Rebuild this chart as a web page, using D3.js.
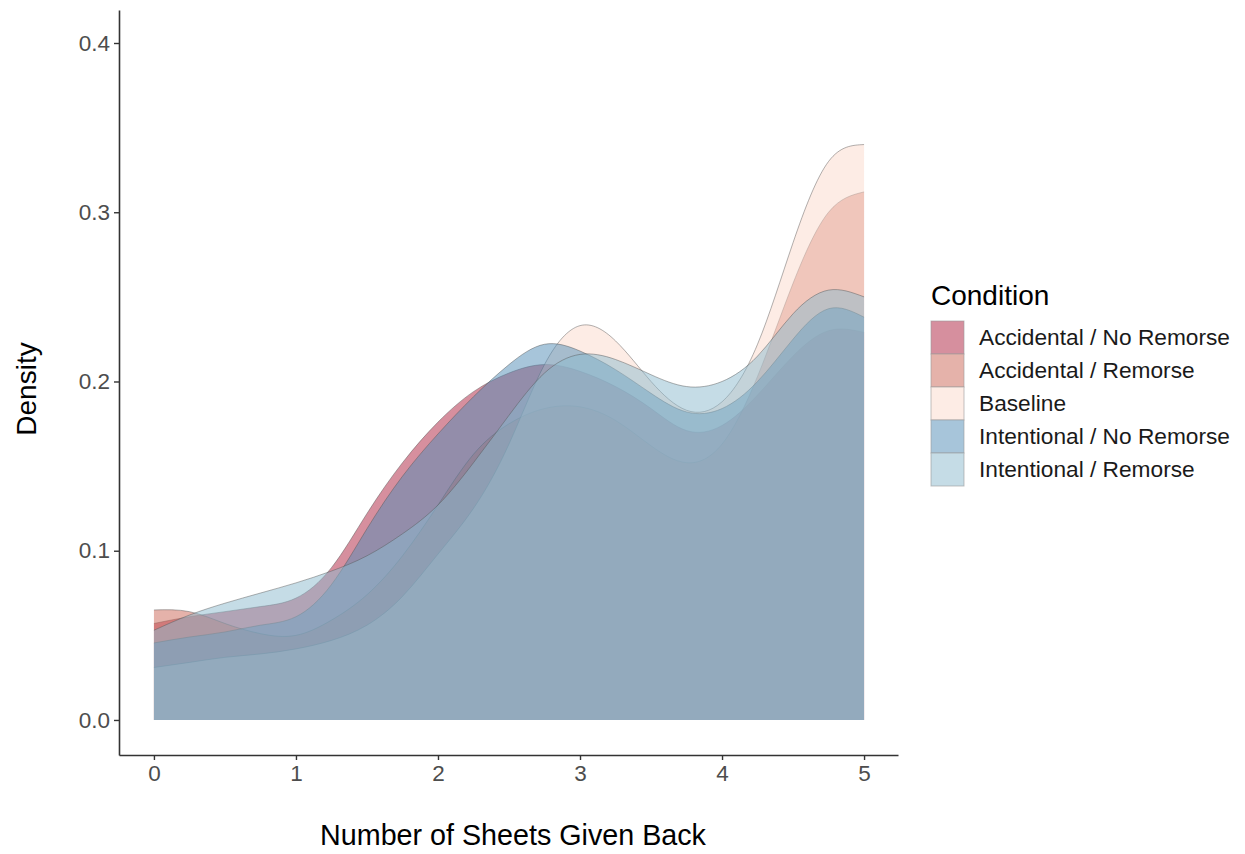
<!DOCTYPE html>
<html>
<head>
<meta charset="utf-8">
<script src="https://cdn.jsdelivr.net/npm/d3@7"></script>
<style>
  body { margin: 0; background: #fff; }
  svg { font-family: "Liberation Sans", Arial, sans-serif; }
</style>
</head>
<body>
<script>
// density curves, all on the same x grid
const xGrid = [0, 0.25, 0.5, 0.75, 1.0, 1.25, 1.5, 1.75, 2.0, 2.25, 2.5, 2.75, 3.0, 3.25, 3.5, 3.75, 4.0, 4.25, 4.5, 4.75, 5.0];

const conditions = ["Accidental / No Remorse", "Accidental / Remorse", "Baseline", "Intentional / No Remorse", "Intentional / Remorse"];

const accNoRemorse = [0.057, 0.061, 0.064, 0.067, 0.072, 0.090, 0.122, 0.152, 0.176, 0.194, 0.205, 0.210, 0.206, 0.197, 0.184, 0.171, 0.174, 0.192, 0.215, 0.230, 0.229];
const accRemorse   = [0.065, 0.064, 0.057, 0.051, 0.050, 0.059, 0.074, 0.097, 0.127, 0.157, 0.175, 0.184, 0.185, 0.177, 0.162, 0.152, 0.163, 0.203, 0.258, 0.300, 0.312];
const baseline     = [0.031, 0.034, 0.037, 0.039, 0.042, 0.047, 0.056, 0.073, 0.098, 0.125, 0.163, 0.210, 0.233, 0.224, 0.200, 0.183, 0.188, 0.222, 0.282, 0.330, 0.340];
const intNoRemorse = [0.0455, 0.049, 0.052, 0.056, 0.061, 0.080, 0.113, 0.144, 0.169, 0.191, 0.210, 0.222, 0.218, 0.207, 0.193, 0.182, 0.184, 0.200, 0.225, 0.243, 0.238];
const intRemorse   = [0.053, 0.062, 0.069, 0.075, 0.081, 0.088, 0.097, 0.110, 0.127, 0.152, 0.180, 0.205, 0.216, 0.213, 0.204, 0.197, 0.200, 0.215, 0.240, 0.254, 0.250];

const seriesValues = [accNoRemorse, accRemorse, baseline, intNoRemorse, intRemorse];
const fillColors = ["#ad1f3d", "#cb6555", "#fbd9cb", "#4f8bb5", "#8bb9cd"];

const xTicks = [0, 1, 2, 3, 4, 5];
const yTicks = [0, 0.1, 0.2, 0.3, 0.4];

const width = 1245, height = 854;

const svg = d3.select("body").append("svg")
  .attr("width", width)
  .attr("height", height);

const x = d3.scaleLinear().domain([-0.246, 5.239]).range([119, 898]);
const y = d3.scaleLinear().domain([-0.0207, 0.4195]).range([755, 10]);

const color = d3.scaleOrdinal().domain(conditions).range(fillColors);

// build a small table per condition
const series = conditions.map((c, i) => ({
  name: c,
  points: xGrid.map((xv, j) => ({ x: xv, y: seriesValues[i][j] }))
}));

const area = d3.area()
  .x(d => x(d.x))
  .y0(y(0))
  .y1(d => y(d.y))
  .curve(d3.curveNatural);

const line = d3.line()
  .x(d => x(d.x))
  .y(d => y(d.y))
  .curve(d3.curveNatural);

const plot = svg.append("g");

series.forEach(s => {
  plot.append("path")
    .datum(s.points)
    .attr("d", area)
    .attr("fill", color(s.name))
    .attr("fill-opacity", 0.5);
  plot.append("path")
    .datum(s.points)
    .attr("d", line)
    .attr("fill", "none")
    .attr("stroke", "#555")
    .attr("stroke-opacity", 0.45)
    .attr("stroke-width", 1);
});

// axes
const xAxis = svg.append("g")
  .attr("transform", `translate(0,${755})`)
  .call(d3.axisBottom(x).tickValues(xTicks).tickSize(5).tickSizeOuter(0).tickPadding(5).tickFormat(d3.format("d")));

const yAxis = svg.append("g")
  .attr("transform", `translate(${119},0)`)
  .call(d3.axisLeft(y).tickValues(yTicks).tickSize(5).tickSizeOuter(0).tickPadding(4).tickFormat(d3.format(".1f")));

[xAxis, yAxis].forEach(ax => {
  ax.select(".domain").attr("stroke", "#333").attr("stroke-width", 1.6);
  ax.selectAll(".tick line").attr("stroke", "#333").attr("stroke-width", 1.4);
  ax.selectAll(".tick text")
    .attr("fill", "#4d4d4d")
    .style("font-size", "22.5px")
    .style("font-family", "Liberation Sans, Arial, sans-serif");
});

// axis titles
svg.append("text")
  .attr("x", 513)
  .attr("y", 845)
  .attr("text-anchor", "middle")
  .style("font-size", "28.7px")
  .attr("fill", "#000")
  .text("Number of Sheets Given Back");

svg.append("text")
  .attr("transform", "translate(36,389) rotate(-90)")
  .attr("text-anchor", "middle")
  .style("font-size", "28px")
  .attr("fill", "#000")
  .text("Density");

// legend
const legend = svg.append("g").attr("transform", "translate(931,0)");

legend.append("text")
  .attr("x", 0)
  .attr("y", 305)
  .style("font-size", "28px")
  .attr("fill", "#000")
  .text("Condition");

const keySize = 33;
const item = legend.selectAll(".item")
  .data(conditions)
  .join("g")
  .attr("class", "item")
  .attr("transform", (d, i) => `translate(0,${321 + i * keySize})`);

item.append("rect")
  .attr("width", keySize)
  .attr("height", keySize)
  .attr("fill", "#fff");

item.append("rect")
  .attr("width", keySize)
  .attr("height", keySize)
  .attr("fill", d => color(d))
  .attr("fill-opacity", 0.5)
  .attr("stroke", "#999")
  .attr("stroke-opacity", 0.6)
  .attr("stroke-width", 1);

item.append("text")
  .attr("x", 48)
  .attr("y", keySize / 2)
  .attr("dy", "0.35em")
  .style("font-size", "22.7px")
  .attr("fill", "#1a1a1a")
  .text(d => d);
</script>
</body>
</html>
